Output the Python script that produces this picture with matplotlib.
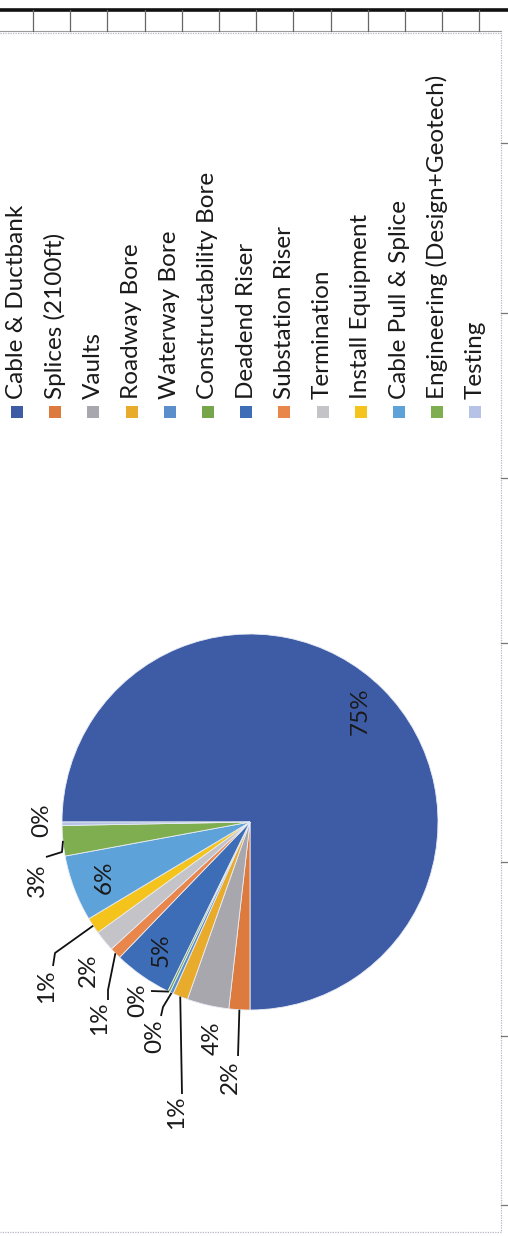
import numpy as np
import matplotlib
matplotlib.use('Agg')
import matplotlib.pyplot as plt
from matplotlib.patches import Rectangle
matplotlib.rcParams['font.family'] = ['Lato', 'DejaVu Sans']

# cost breakdown, percent of total
categories = ['Cable & Ductbank', 'Splices (2100ft)', 'Vaults', 'Roadway Bore',
              'Waterway Bore', 'Constructability Bore', 'Deadend Riser',
              'Substation Riser', 'Termination', 'Install Equipment',
              'Cable Pull & Splice', 'Engineering (Design+Geotech)', 'Testing']
shares = [75.0, 1.8, 3.6, 1.3, 0.3, 0.2, 5.0, 1.0, 1.8, 1.4, 5.7, 2.6, 0.3]
colors = ['#3e5ca6', '#dd7a3e', '#a9a7ae', '#e8ab2c', '#5a8fcc', '#77a64a',
          '#3c6db6', '#e9864c', '#c3c3c8', '#f4c31c', '#5ea2da', '#7fae50',
          '#b6c3e6']

W, H = 508, 1236
def Y(yi):
    # picture rows run downwards
    return H - yi

fig = plt.figure(figsize=(W / 100, H / 100), dpi=100)
ax = fig.add_axes([0, 0, 1, 1])

cx, cy, R = 250, 822, 188
wedges, _ = ax.pie(shares, colors=colors, startangle=180, counterclock=False,
                   radius=R, center=(cx, Y(cy)),
                   wedgeprops=dict(linewidth=0.6, edgecolor='#e8ecf4'))

# label layout: 'in' = inside at 0.83 R, otherwise picture position of text centre
label_pos = ['in', (230, 1077), (212, 1038), (177, 1112), (155, 1036),
             (138, 1000), 'in', (100, 1018), (88, 970), (47, 986), 'in',
             (37, 880), (42, 820)]
# leader elbows (picture coords), drawn from the arc at the slice middle
leaders = {1: [(238, 1056)],
           3: [(182, 1094)],
           4: [(163, 1007), (161, 1016)],
           5: [(151, 991)],
           7: [(108, 990), (108, 1000)],
           9: [(55, 953), (53, 966)],
           11: [(62, 852), (46, 857)]}

fs = 17.5
cum = np.cumsum([0] + shares[:-1])
for i, (v, pos) in enumerate(zip(shares, label_pos)):
    mid = np.radians(180 - 3.6 * (cum[i] + v / 2))
    txt = '{:.0f}%'.format(round(v))
    if pos == 'in':
        ax.text(cx + 0.83 * R * np.cos(mid), Y(cy) + 0.83 * R * np.sin(mid), txt,
                rotation=90, ha='center', va='center', fontsize=fs, color='#1a1a1a')
        continue
    ax.text(pos[0], Y(pos[1]), txt, rotation=90, ha='center', va='center',
            fontsize=fs, color='#1a1a1a')
    if i in leaders:
        xs = [cx + R * np.cos(mid)] + [p[0] for p in leaders[i]]
        ys = [Y(cy) + R * np.sin(mid)] + [Y(p[1]) for p in leaders[i]]
        ax.plot(xs, ys, color='#111111', lw=1.3, solid_capstyle='butt')

# legend, one rotated column per entry
lx0, lstep = 17, 38.2
for i, (name, c) in enumerate(zip(categories, colors)):
    x = lx0 + i * lstep
    ax.add_patch(Rectangle((x - 6, Y(418)), 12, 12, facecolor=c, edgecolor='none'))
    ax.text(x, Y(399), name, rotation=90, ha='center', va='bottom',
            fontsize=fs, color='#1a1a1a')

# scanned sheet: grid row at top and chart border
ax.plot([0, W], [Y(10), Y(10)], color='#111111', lw=2.6)
ax.plot([0, 501], [Y(31), Y(31)], color='#9a9a9a', lw=0.8)
for k in range(13):
    x = 33 + k * 37.2
    ax.plot([x, x], [Y(10), Y(31)], color='#666666', lw=0.9)
ax.plot([0, 501, 501, 0], [Y(33), Y(33), Y(1232), Y(1232)],
        color='#b8b4c8', lw=0.9, ls=(0, (1, 1)))
for ty in [143, 313, 478, 643, 862, 1036, 1205]:
    ax.plot([501, W], [Y(ty), Y(ty)], color='#777777', lw=0.9)

ax.set_xlim(0, W)
ax.set_ylim(0, H)
ax.axis('off')
fig.savefig('out.png', dpi=100, facecolor='white')
